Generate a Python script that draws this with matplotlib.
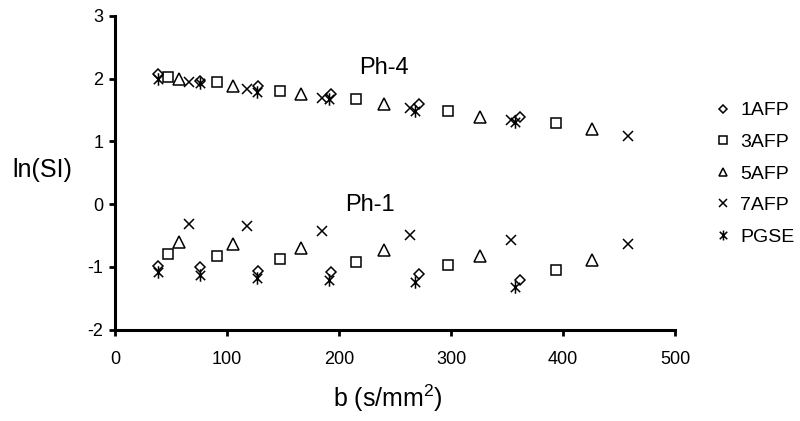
import numpy as np
import matplotlib
matplotlib.use('Agg')
import matplotlib.pyplot as plt
from matplotlib.path import Path

plt.rcParams['font.family'] = ['Liberation Sans', 'DejaVu Sans']
plt.rcParams['mathtext.fontset'] = 'custom'
plt.rcParams['mathtext.rm'] = 'Liberation Sans'
plt.rcParams['axes.unicode_minus'] = False

# b values (s/mm^2) and ln(SI) for each sequence, Ph-4 (top) and Ph-1 (bottom)
b_1afp = [38, 76, 128, 193, 271, 362]
ph4_1afp = [2.07, 1.97, 1.89, 1.75, 1.60, 1.39]
ph1_1afp = [-0.98, -1.01, -1.06, -1.09, -1.12, -1.21]

b_3afp = [47, 91, 147, 215, 297, 394]
ph4_3afp = [2.03, 1.94, 1.81, 1.67, 1.49, 1.30]
ph1_3afp = [-0.80, -0.83, -0.88, -0.93, -0.97, -1.05]

b_5afp = [57, 105, 166, 240, 326, 426]
ph4_5afp = [1.99, 1.89, 1.75, 1.60, 1.39, 1.20]
ph1_5afp = [-0.60, -0.64, -0.70, -0.74, -0.83, -0.89]

b_7afp = [66, 118, 185, 263, 354, 458]
ph4_7afp = [1.94, 1.83, 1.70, 1.53, 1.34, 1.09]
ph1_7afp = [-0.32, -0.35, -0.43, -0.49, -0.57, -0.64]

b_pgse = [38, 76, 127, 191, 268, 357]
ph4_pgse = [1.99, 1.93, 1.79, 1.68, 1.48, 1.31]
ph1_pgse = [-1.09, -1.13, -1.18, -1.21, -1.25, -1.32]

x_ticks = [0, 100, 200, 300, 400, 500]
y_ticks = [-2, -1, 0, 1, 2, 3]

# asterisk marker: vertical bar + X
star = Path([(0, -1), (0, 1), (-0.75, -0.75), (0.75, 0.75), (-0.75, 0.75), (0.75, -0.75)],
            [Path.MOVETO, Path.LINETO, Path.MOVETO, Path.LINETO, Path.MOVETO, Path.LINETO])

fig = plt.figure(figsize=(8, 4.21), dpi=100)
ax = fig.add_axes([115 / 800, 1 - 329.5 / 421, 560 / 800, 313.5 / 421])

series = [
    ('1AFP', b_1afp, ph4_1afp, ph1_1afp, 'D', 5.5),
    ('3AFP', b_3afp, ph4_3afp, ph1_3afp, 's', 6.5),
    ('5AFP', b_5afp, ph4_5afp, ph1_5afp, '^', 8),
    ('7AFP', b_7afp, ph4_7afp, ph1_7afp, 'x', 7.5),
    ('PGSE', b_pgse, ph4_pgse, ph1_pgse, star, 9),
]
for name, b, top, bot, mk, ms in series:
    ax.plot(b + b, top + bot, linestyle='none', marker=mk, ms=ms, mfc='none',
            mec='black', mew=1.1, label=name)

ax.set_xlim(0, 500)
ax.set_ylim(-2, 3)
ax.set_xticks(x_ticks)
ax.set_yticks(y_ticks)
for s in ['top', 'right']:
    ax.spines[s].set_visible(False)
for s in ['left', 'bottom']:
    ax.spines[s].set_linewidth(2.2)
ax.tick_params(axis='both', direction='out', length=4.5, width=2, labelsize=13)
ax.tick_params(axis='x', pad=11)
ax.tick_params(axis='y', pad=4)

ax.text(240, 2.17, 'Ph-4', fontsize=17, ha='center', va='center')
ax.text(228, -0.01, 'Ph-1', fontsize=17, ha='center', va='center')

fig.text(42 / 800, 1 - 170 / 421, 'ln(SI)', fontsize=18, ha='center', va='center')
fig.text(388 / 800, 1 - 398 / 421, 'b (s/mm$^2$)', fontsize=18, ha='center', va='center')

ax.legend(loc='upper left', bbox_to_anchor=(705 / 800, 1 - 94 / 421), bbox_transform=fig.transFigure,
          frameon=False, fontsize=14, handlelength=1, handletextpad=0.4, labelspacing=0.72,
          borderaxespad=0, markerscale=0.8)

fig.savefig('out.png', dpi=100)
